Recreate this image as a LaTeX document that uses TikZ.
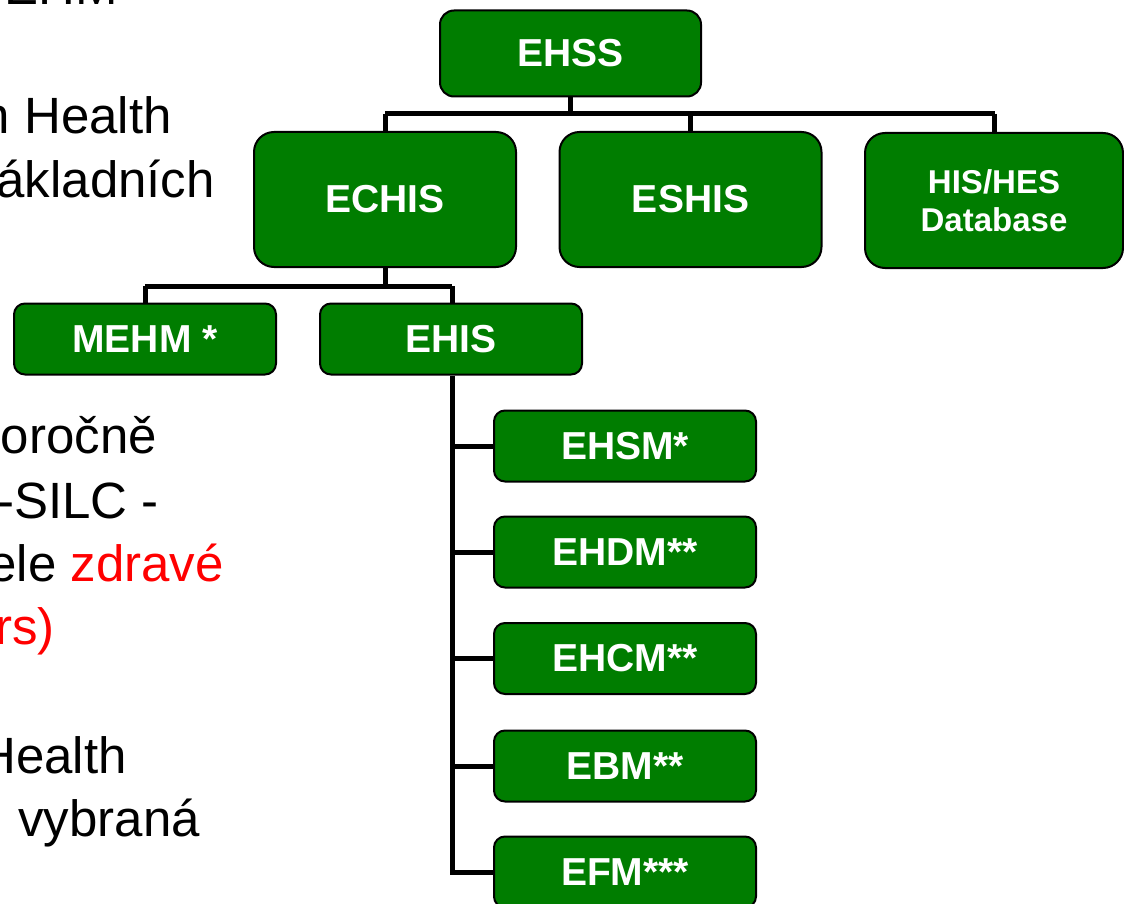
\documentclass[tikz,border=0pt]{standalone}
\usepackage{fontspec}
\setmainfont{Liberation Sans}
\definecolor{boxgreen}{RGB}{0,125,0}
\definecolor{txtred}{RGB}{255,0,0}
\tikzset{
  gbox/.style={draw=black, line width=2pt, fill=boxgreen, text=white,
    font=\fontsize{39}{45}\selectfont\bfseries, align=center, inner sep=0pt},
  bigbox/.style={gbox, rounded corners=20pt, minimum width=262pt, minimum height=135pt},
  topbox/.style={gbox, rounded corners=14pt, minimum width=261pt, minimum height=86pt},
  smallbox/.style={gbox, rounded corners=11pt, minimum width=262pt, minimum height=71pt},
  conn/.style={draw=black, line width=5pt, line join=miter},
  sidetext/.style={anchor=base east, inner sep=0pt, text=black,
    font=\fontsize{51}{60}\selectfont}
}
\begin{document}
\begin{tikzpicture}[x=1pt,y=-1pt]
\useasboundingbox (0,0) rectangle (1124,904);
\clip (0,0) rectangle (1124,904);
\fill[white] (0,0) rectangle (1124,904);

% side texts (cropped slide text)
\node[sidetext] (t1) at (118,4.5) {EHM};
\node[sidetext] (t2) at (172,134) {n Health};
\node[sidetext] (t3) at (215,198) {ákladních};
\node[sidetext] (t4) at (157,453) {oročně};
\node[sidetext] (t5) at (159,518) {-SILC -};
\node[sidetext] (t6) at (224,581) {ele \textcolor{txtred}{zdravé}};
\node[sidetext, text=txtred] (t7) at (55,644) {rs)};
\node[sidetext] (t8) at (127,773) {Health};
\node[sidetext] (t9) at (200,836) {vybraná};

% connectors (drawn first, boxes on top)
\coordinate (j1) at (570.5,114);
\coordinate (j2) at (385,286);
\draw[conn] (570.5,96) -- (j1);
\draw[conn] (385,114) -- (995,114);
\draw[conn] (385,114) -- (385,132);
\draw[conn] (690.5,114) -- (690.5,132);
\draw[conn] (994,114) -- (994,132);
\draw[conn] (385,267) -- (j2);
\draw[conn] (145,286) -- (452,286);
\draw[conn] (145,286) -- (145,303);
\draw[conn] (452,286) -- (452,303);

% boxes
\node[topbox] (ehss) at (570.5,53.5) {EHSS};
\node[bigbox] (echis) at (385,199.5) {ECHIS};
\node[bigbox] (eshis) at (690.5,199.5) {ESHIS};
\node[bigbox, minimum width=258pt, font=\fontsize{33}{38}\selectfont\bfseries] (his) at (994,200.5) {HIS/HES\\Database};
\node[smallbox] (mehm) at (145,339) {MEHM *};
\node[smallbox] (ehis) at (451,339) {EHIS};
\node[smallbox] (ehsm) at (625,446) {EHSM*};
\node[smallbox] (ehdm) at (625,552) {EHDM**};
\node[smallbox] (ehcm) at (625,658.5) {EHCM**};
\node[smallbox] (ebm) at (625,766) {EBM**};
\node[smallbox] (efm) at (625,872) {EFM***};

% EHIS children
\coordinate (ehisdown) at ([xshift=1pt]ehis.south);
\draw[conn] (ehisdown) -- (ehisdown |- efm.west) -- (efm.west);
\draw[conn] (ehisdown |- ehsm.west) -- (ehsm.west);
\draw[conn] (ehisdown |- ehdm.west) -- (ehdm.west);
\draw[conn] (ehisdown |- ehcm.west) -- (ehcm.west);
\draw[conn] (ehisdown |- ebm.west) -- (ebm.west);
\end{tikzpicture}
\end{document}
